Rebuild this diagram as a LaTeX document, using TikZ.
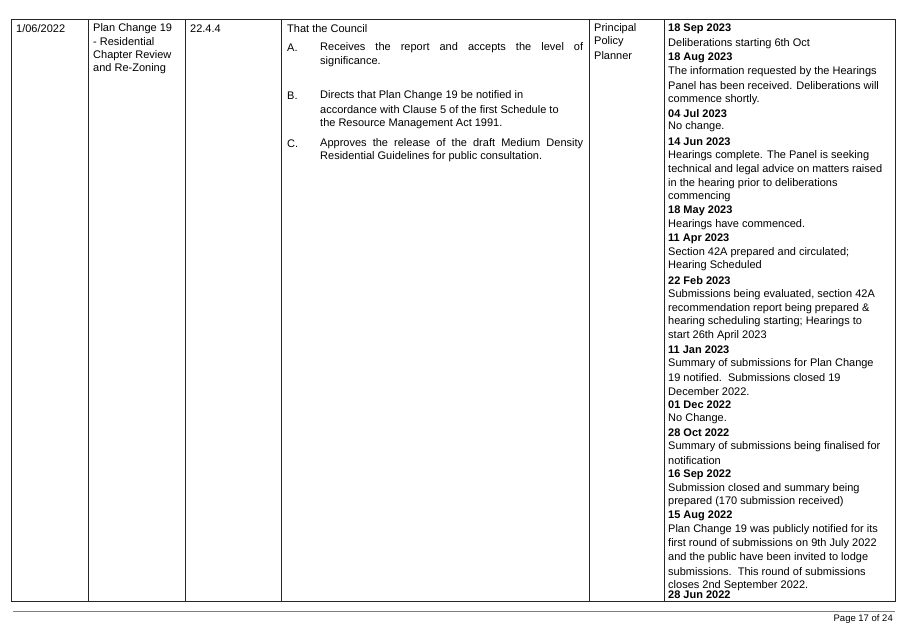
\documentclass[tikz,border=0pt]{standalone}
\usepackage{fontspec}
\setmainfont{Liberation Sans}
\begin{document}
\begin{tikzpicture}[x=1pt,y=-1pt,
  txt/.style={anchor=west,inner sep=0pt,font=\fontsize{11}{13}\selectfont},
  bld/.style={txt,font=\fontsize{11}{13}\selectfont\bfseries},
  grid/.style={line width=0.9pt,black!85}]
\useasboundingbox (0,0) rectangle (907,626);
\draw[grid] (11,19) rectangle (895,601);
\foreach \x in {88,185,281,589,664} \draw[grid] (\x,19) -- (\x,601);
\draw[gray,line width=1pt] (13,611) -- (895,611);
\node[txt,anchor=east] (pg) at (893,619) {\fontsize{9.5}{11}\selectfont Page 17 of 24};
\node[txt] (c1) at (16,29) {1/06/2022};
\foreach \y/\t [count=\i] in {29/{Plan Change 19},42/{- Residential},56/{Chapter Review},69/{and Re-Zoning}}
  \node[txt] (c2\i) at (93,\y) {\t};
\node[txt] (c3) at (190,29) {22.4.4};
\foreach \y/\t [count=\i] in {29/{Principal},42/{Policy},56/{Planner}}
  \node[txt] (c5\i) at (594,\y) {\t};
\node[txt] (c4) at (287,29) {That the Council};
\node[txt] (la) at (287,48) {A.};
\node[txt] (a1) at (320,48) {\makebox[263pt][s]{Receives the report and accepts the level of}};
\node[txt] (a2) at (320,62) {significance.};
\node[txt] (lb) at (287,96) {B.};
\node[txt] (b1) at (320,96) {Directs that Plan Change 19 be notified in};
\node[txt] (b2) at (320,110) {accordance with Clause 5 of the first Schedule to};
\node[txt] (b3) at (320,124) {the Resource Management Act 1991.};
\node[txt] (lc) at (287,144) {C.};
\node[txt] (cc1) at (320,144) {\makebox[263pt][s]{Approves the release of the draft Medium Density}};
\node[txt] (cc2) at (320,157) {Residential Guidelines for public consultation.};
\foreach \y/\s/\t [count=\i] in {
29/bld/{18 Sep 2023},44/txt/{Deliberations starting 6th Oct},
58/bld/{18 Aug 2023},72/txt/{The information requested by the Hearings},86/txt/{Panel has been received. Deliberations will},100/txt/{commence shortly.},
114/bld/{04 Jul 2023},127/txt/{No change.},
142/bld/{14 Jun 2023},156/txt/{Hearings complete. The Panel is seeking},170/txt/{technical and legal advice on matters raised},184/txt/{in the hearing prior to deliberations},197/txt/{commencing},
211/bld/{18 May 2023},225/txt/{Hearings have commenced.},
239/bld/{11 Apr 2023},253/txt/{Section 42A prepared and circulated;},266/txt/{Hearing Scheduled},
281/bld/{22 Feb 2023},295/txt/{Submissions being evaluated, section 42A},309/txt/{recommendation report being prepared \&},322/txt/{hearing scheduling starting; Hearings to},336/txt/{start 26th April 2023},
350/bld/{11 Jan 2023},364/txt/{Summary of submissions for Plan Change},378/txt/{19 notified.\ \ Submissions closed 19},392/txt/{December 2022.},
405/bld/{01 Dec 2022},419/txt/{No Change.},
433/bld/{28 Oct 2022},447/txt/{Summary of submissions being finalised for},461/txt/{notification},
475/bld/{16 Sep 2022},489/txt/{Submission closed and summary being},502/txt/{prepared (170 submission received)},
516/bld/{15 Aug 2022},530/txt/{Plan Change 19 was publicly notified for its},544/txt/{first round of submissions on 9th July 2022},558/txt/{and the public have been invited to lodge},572/txt/{submissions.\ \ This round of submissions},586/txt/{closes 2nd September 2022.},
595/bld/{28 Jun 2022}}
  \node[\s] (r\i) at (668,\y) {\t};
\end{tikzpicture}
\end{document}
